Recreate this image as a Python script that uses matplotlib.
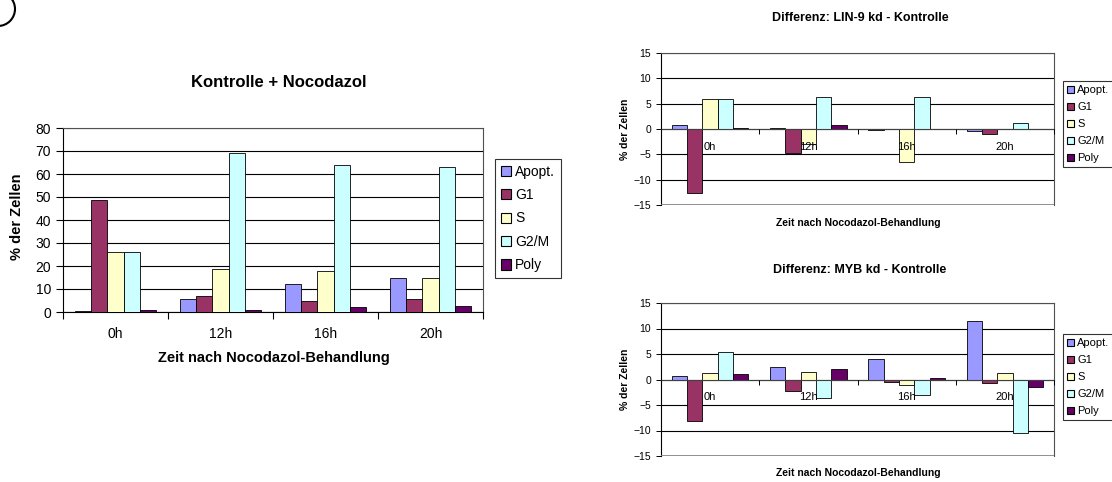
import numpy as np
import matplotlib
matplotlib.use("Agg")
import matplotlib.pyplot as plt
from matplotlib.patches import Ellipse

plt.rcParams['font.family'] = ['Liberation Sans', 'DejaVu Sans']

# data
zeiten = ["0h", "12h", "16h", "20h"]
phasen = ["Apopt.", "G1", "S", "G2/M", "Poly"]
farben = ["#9999FF", "#993366", "#FFFFCC", "#CCFFFF", "#660066"]

kontrolle = [
    [0.5, 5.5, 12.0, 15.0],     # Apopt.
    [48.5, 7.0, 5.0, 5.5],      # G1
    [26.0, 18.5, 18.0, 15.0],   # S
    [26.0, 69.0, 64.0, 63.0],   # G2/M
    [1.0, 1.0, 2.0, 2.5],       # Poly
]
lin9_diff = [
    [0.7, 0.2, -0.2, -0.4],
    [-12.7, -4.7, 0.0, -0.9],
    [5.9, -3.0, -6.5, -0.05],
    [5.9, 6.4, 6.3, 1.2],
    [0.25, 0.7, 0.0, 0.0],
]
myb_diff = [
    [0.7, 2.4, 4.0, 11.5],
    [-8.1, -2.3, -0.4, -0.6],
    [1.2, 1.5, -1.1, 1.3],
    [5.4, -3.7, -3.0, -10.5],
    [1.0, 2.0, 0.2, -1.4],
]

W, H = 1112, 482
fig = plt.figure(figsize=(W / 100, H / 100), dpi=100)


def box(x0, y0, x1, y1):
    # pixel box (top-left origin) -> figure fraction rect
    return [x0 / W, 1 - y1 / H, (x1 - x0) / W, (y1 - y0) / H]


def px(x, y):
    return x / W, 1 - y / H


def bars(ax, werte):
    x = np.arange(len(zeiten))
    bw = 0.156
    for i, (name, farbe) in enumerate(zip(phasen, farben)):
        ax.bar(x + (i - 2) * bw, werte[i], bw, color=farbe, edgecolor="black",
               linewidth=0.6, label=name, zorder=3)
    ax.set_xlim(-0.5, len(zeiten) - 0.5)
    ax.set_xticks(np.arange(len(zeiten) + 1) - 0.5)
    ax.set_xticklabels([])
    ax.set_xticks(x, minor=True)
    ax.set_xticklabels(zeiten, minor=True)
    ax.tick_params(axis="x", which="minor", length=0)
    ax.yaxis.grid(True, color="black", linewidth=0.8)
    ax.yaxis.set_zorder(1)
    ax.xaxis.set_zorder(5)
    for s in ["top", "right"]:
        ax.spines[s].set_color("#505050")


def legende(ax, x, y, size, hl, ls):
    leg = ax.legend(loc="upper left", bbox_to_anchor=px(x, y),
                    bbox_transform=fig.transFigure, borderaxespad=0, fontsize=size,
                    frameon=True, fancybox=False, edgecolor="black",
                    handlelength=hl, handleheight=hl, handletextpad=0.3,
                    labelspacing=ls, borderpad=0.4)
    leg.get_frame().set_linewidth(0.8)
    for p in leg.get_patches():
        p.set_linewidth(0.8)


# left chart
ax1 = fig.add_axes(box(63, 128, 483, 312))
bars(ax1, kontrolle)
ax1.set_ylim(0, 80)
ax1.set_yticks(range(0, 81, 10))
ax1.tick_params(axis="both", which="both", labelsize=10, width=0.8)
ax1.tick_params(axis="both", which="major", length=5)
ax1.tick_params(axis="x", which="minor", pad=11)
fig.text(*px(17, 217), "% der Zellen", rotation=90, ha="center", va="center",
         fontsize=10.5, fontweight="bold")
fig.text(*px(274, 358), "Zeit nach Nocodazol-Behandlung", ha="center", va="center",
         fontsize=10.5, fontweight="bold")
fig.text(*px(279, 82), "Kontrolle + Nocodazol", ha="center", va="center",
         fontsize=12, fontweight="bold")
legende(ax1, 495, 159, 10, 0.75, 0.68)

# right charts
for werte, (y0, y1), titel_y, leg_y, xl_y, titel in [
    (lin9_diff, (53, 205), 18, 81, 223, "Differenz: LIN-9 kd - Kontrolle"),
    (myb_diff, (303, 456), 270, 334, 473, "Differenz: MYB kd - Kontrolle"),
]:
    ax = fig.add_axes(box(661, y0, 1054, y1))
    bars(ax, werte)
    ax.set_ylim(-15, 15)
    ax.set_yticks(range(-15, 16, 5))
    ax.spines["bottom"].set_position(("data", 0))
    ax.spines["bottom"].set_color("#404040")
    ax.spines["bottom"].set_zorder(4)
    ax.tick_params(axis="both", which="both", labelsize=7.5, width=0.7)
    ax.tick_params(axis="both", which="major", length=3.5)
    ax.tick_params(axis="x", which="minor", pad=9, labelsize=8)
    ax.axhline(-15, color="#808080", linewidth=1.2, zorder=4)
    fig.text(*px(625, (y0 + y1) / 2), "% der Zellen", rotation=90, ha="center",
             va="center", fontsize=7.5, fontweight="bold")
    fig.text(*px(860, titel_y), titel, ha="center", va="center",
             fontsize=9, fontweight="bold")
    fig.text(*px(858, xl_y), "Zeit nach Nocodazol-Behandlung", ha="center",
             va="center", fontsize=7.5, fontweight="bold")
    legende(ax, 1063, leg_y, 8, 0.6, 0.62)

# cut-off circle in the top left corner
fig.patches.append(Ellipse((-2, H - 9), 34, 34, fill=False, linewidth=1.5,
                           edgecolor="black", transform=None))

fig.savefig("out.png", dpi=100)
